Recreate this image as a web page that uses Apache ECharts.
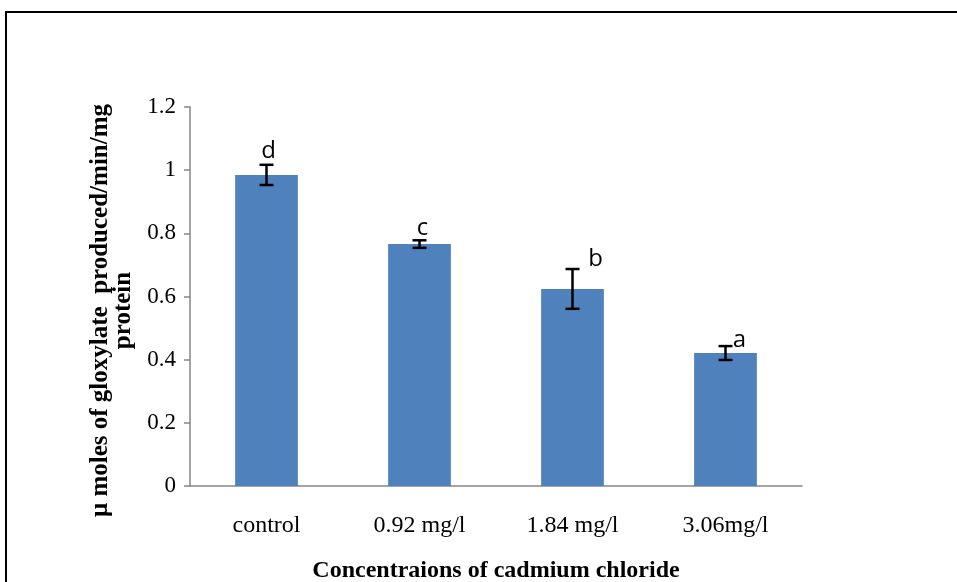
<!DOCTYPE html>
<html>
<head>
<meta charset="utf-8">
<script src="https://cdn.jsdelivr.net/npm/echarts@6/dist/echarts.min.js"></script>
<style>
  html, body { margin: 0; padding: 0; background: #fff; }
  #chart { width: 957px; height: 582px; }
</style>
</head>
<body>
<div id="chart"></div>
<script>
const categories = ['control', '0.92 mg/l', '1.84 mg/l', '3.06mg/l'];
const means = [0.985, 0.766, 0.624, 0.421];
const errors = [0.032, 0.012, 0.063, 0.022];
const letters = ['d', 'c', 'b', 'a'];
const yTicks = [0, 0.2, 0.4, 0.6, 0.8, 1, 1.2];

// pixel nudges for the significance letters [dx, dy]
const letterNudge = [[2, -2], [3, 0], [23, 2], [14, 6]];

const serif = '"Liberation Serif", "DejaVu Serif", serif';
const chart = echarts.init(document.getElementById('chart'));

const errorData = means.map((m, i) => [i, m - errors[i], m + errors[i]]);

chart.setOption({
  animation: false,
  graphic: [{
    type: 'rect',
    shape: { x: 6, y: 12, width: 1000, height: 1000 },
    style: { fill: 'none', stroke: '#000', lineWidth: 2 }
  }],
  grid: { left: 190, top: 107, right: 155, bottom: 96, outerBoundsMode: 'none', containLabel: false },
  xAxis: {
    type: 'category',
    data: categories,
    name: 'Concentraions of cadmium chloride',
    nameLocation: 'middle',
    nameGap: 73,
    nameTextStyle: { fontFamily: serif, fontSize: 24, fontWeight: 'bold', color: '#000' },
    axisLine: { lineStyle: { color: '#868686', width: 1.5 } },
    axisTick: { length: 6, lineStyle: { color: '#868686', width: 1.5 } },
    axisLabel: { fontFamily: serif, fontSize: 24, color: '#000', margin: 28 }
  },
  yAxis: {
    type: 'value',
    min: 0,
    max: 1.2,
    interval: 0.2,
    name: 'μ moles of gloxylate  produced/min/mg\nprotein',
    nameLocation: 'middle',
    nameRotate: 90,
    nameGap: 51,
    nameTextStyle: {
      fontFamily: serif, fontSize: 25, fontWeight: 'bold', color: '#000',
      lineHeight: 23, padding: [0, 28, 0, 0]
    },
    splitLine: { show: false },
    axisLine: { show: true, lineStyle: { color: '#868686', width: 1.5 } },
    axisTick: { show: true, length: 6, lineStyle: { color: '#868686', width: 1.5 } },
    axisLabel: {
      fontFamily: serif, fontSize: 23, color: '#000', margin: 14,
      formatter: v => yTicks.includes(+v.toFixed(1)) ? String(+v.toFixed(1)) : ''
    }
  },
  series: [{
    type: 'bar',
    data: means,
    barWidth: '41%',
    itemStyle: { color: '#4f81bd' }
  }, {
    type: 'custom',
    data: errorData,
    z: 10,
    renderItem: (params, api) => {
      const lo = api.coord([api.value(0), api.value(1)]);
      const hi = api.coord([api.value(0), api.value(2)]);
      const cap = 7;
      const x = lo[0];
      const nudge = letterNudge[params.dataIndex];
      const style = { stroke: '#000', lineWidth: 2.5 };
      return {
        type: 'group',
        children: [
          { type: 'line', shape: { x1: x, y1: lo[1], x2: x, y2: hi[1] }, style },
          { type: 'line', shape: { x1: x - cap, y1: lo[1], x2: x + cap, y2: lo[1] }, style },
          { type: 'line', shape: { x1: x - cap, y1: hi[1], x2: x + cap, y2: hi[1] }, style },
          {
            type: 'text',
            style: {
              text: letters[params.dataIndex],
              x: x + nudge[0],
              y: hi[1] + nudge[1],
              fill: '#000',
              font: '24px "Open Sans", "DejaVu Sans", sans-serif',
              align: 'center',
              verticalAlign: 'bottom'
            }
          }
        ]
      };
    }
  }]
});
</script>
</body>
</html>
